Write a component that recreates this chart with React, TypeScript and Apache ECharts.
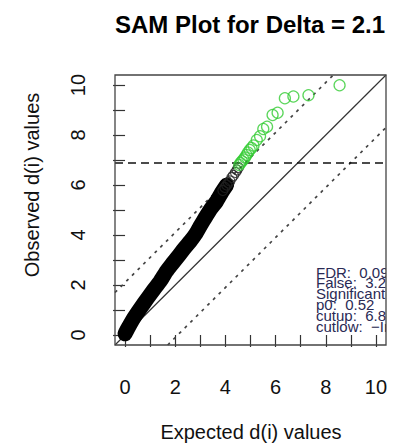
import React, { useEffect, useRef } from "react";
import * as echarts from "echarts";

// ---- data ----
const axisMin = -0.4;
const axisMax = 10.4;
const tickValues = [0, 1, 2, 3, 4, 5, 6, 7, 8, 9, 10];
const labelValues = [0, 2, 4, 6, 8, 10];

// dense band of non-significant genes (expected, observed)
const blackX = [0.0, 0.12, 0.35, 0.62, 0.88, 1.15, 1.4, 1.65, 1.88, 2.12, 2.35, 2.6, 2.82, 3.02, 3.2, 3.42, 3.65, 3.85, 4.05];
const blackY = [0.05, 0.28, 0.68, 1.08, 1.45, 1.82, 2.15, 2.55, 2.85, 3.15, 3.45, 3.75, 4.05, 4.4, 4.7, 5.05, 5.35, 5.7, 6.0];
// sparser black circles near the top of the band
const blackTopX = [3.9, 3.98, 4.05, 4.12, 4.18, 4.26, 4.32, 4.4, 4.46, 4.52];
const blackTopY = [5.78, 5.9, 6.0, 6.08, 6.16, 6.3, 6.38, 6.5, 6.6, 6.7];

// significant genes (green)
const greenX = [4.55, 4.6, 4.66, 4.72, 4.78, 4.84, 4.9, 4.97, 5.04, 5.12, 5.25, 5.38, 5.51, 5.66, 5.88, 6.08, 6.37, 6.71, 7.31, 8.55];
const greenY = [6.8, 6.88, 6.95, 7.02, 7.1, 7.2, 7.3, 7.4, 7.48, 7.58, 7.8, 7.95, 8.24, 8.33, 8.8, 8.89, 9.47, 9.54, 9.59, 9.99];

// reference lines (endpoints)
const diagLine = [[-0.4, -0.4], [10.4, 10.4]];
const upperLine = [[-0.4, 1.7], [8.3, 10.4]];
const lowerLine = [[1.7, -0.4], [10.4, 8.3]];
const cutupLine = [[-0.4, 6.88], [10.4, 6.88]];

const legendLines = ["FDR:  0.09", "False:  3.2", "Significant", "p0:  0.52", "cutup:  6.8", "cutlow:  \u2212Inf"];

const FONT = "'Liberation Sans', Arial, sans-serif";

export default function App() {
  const ref = useRef<HTMLDivElement>(null);
  useEffect(() => {
    document.body.style.margin = "0";
    if (!ref.current) return;
    const chart = echarts.init(ref.current, null, { renderer: "svg" });
    const G = { left: 115, top: 75, width: 271, height: 270 };
    const zip = (xs: number[], ys: number[]) => xs.map((x, i) => [x, ys[i]]);
    const axisCommon = (isY: boolean) => ({
      type: "value",
      min: axisMin,
      max: axisMax,
      axisLine: { show: false },
      splitLine: { show: false },
      axisTick: {
        show: true,
        customValues: tickValues,
        length: 12,
        lineStyle: { color: "#333", width: 1.2 },
      },
      axisLabel: {
        customValues: labelValues,
        fontSize: 20,
        fontFamily: FONT,
        color: "#111",
        margin: isY ? 27 : 32,
        rotate: isY ? 90 : 0,
      },
    });
    chart.setOption({
      animation: false,
      grid: { ...G, show: false },
      xAxis: axisCommon(false),
      yAxis: axisCommon(true),
      series: [
        {
          type: "line",
          data: diagLine,
          showSymbol: false,
          lineStyle: { color: "#333", width: 1.2 },
          z: 1,
        },
        {
          type: "line",
          data: upperLine,
          showSymbol: false,
          lineStyle: { color: "#444", width: 1.7, type: [3, 5] },
          z: 1,
        },
        {
          type: "line",
          data: lowerLine,
          showSymbol: false,
          lineStyle: { color: "#444", width: 1.7, type: [3, 5] },
          z: 1,
        },
        {
          type: "line",
          data: cutupLine,
          showSymbol: false,
          lineStyle: { color: "#111", width: 1.4, type: [8, 5] },
          z: 1,
        },
        {
          type: "line",
          data: zip(blackX, blackY),
          showSymbol: false,
          smooth: 0.2,
          lineStyle: { color: "#000", width: 15, cap: "round", join: "round" },
          z: 2,
        },
        {
          type: "scatter",
          data: zip(blackX, blackY),
          symbol: "circle",
          symbolSize: 11,
          itemStyle: { color: "transparent", borderColor: "#000", borderWidth: 1.2 },
          z: 3,
        },
        {
          type: "scatter",
          data: zip(blackTopX, blackTopY),
          symbol: "circle",
          symbolSize: 10,
          itemStyle: { color: "transparent", borderColor: "#222", borderWidth: 1.2 },
          z: 3,
        },
        {
          type: "scatter",
          data: zip(greenX, greenY),
          symbol: "circle",
          symbolSize: 11,
          itemStyle: { color: "transparent", borderColor: "#33cc33", borderWidth: 1.3 },
          z: 4,
        },
      ],
      graphic: [
        {
          type: "text",
          x: 250,
          y: 24,
          style: {
            text: "SAM Plot for Delta = 2.1",
            font: `bold 24px ${FONT}`,
            fill: "#000",
            align: "center",
            verticalAlign: "middle",
          },
        },
        {
          type: "text",
          x: 251,
          y: 432,
          style: {
            text: "Expected d(i) values",
            font: `20px ${FONT}`,
            fill: "#111",
            align: "center",
            verticalAlign: "middle",
          },
        },
        {
          type: "text",
          x: 32,
          y: 185,
          rotation: Math.PI / 2,
          style: {
            text: "Observed d(i) values",
            font: `20px ${FONT}`,
            fill: "#111",
            align: "center",
            verticalAlign: "middle",
          },
        },
        ...legendLines.map((t, i) => ({
          type: "text",
          x: 316,
          y: 272 + i * 10.8,
          z: 10,
          style: {
            text: t,
            font: `15px ${FONT}`,
            fill: "#2a2a55",
            align: "left",
            verticalAlign: "middle",
          },
        })),
        {
          type: "rect",
          z: 20,
          shape: { x: G.left + G.width, y: 250, width: 20, height: 100 },
          style: { fill: "#fff" },
        },
        {
          type: "rect",
          z: 30,
          shape: { x: G.left, y: G.top, width: G.width, height: G.height },
          style: { fill: "none", stroke: "#444", lineWidth: 1.3 },
        },
      ],
    });
    return () => chart.dispose();
  }, []);
  return <div ref={ref} style={{ width: 393, height: 445 }} />;
}
